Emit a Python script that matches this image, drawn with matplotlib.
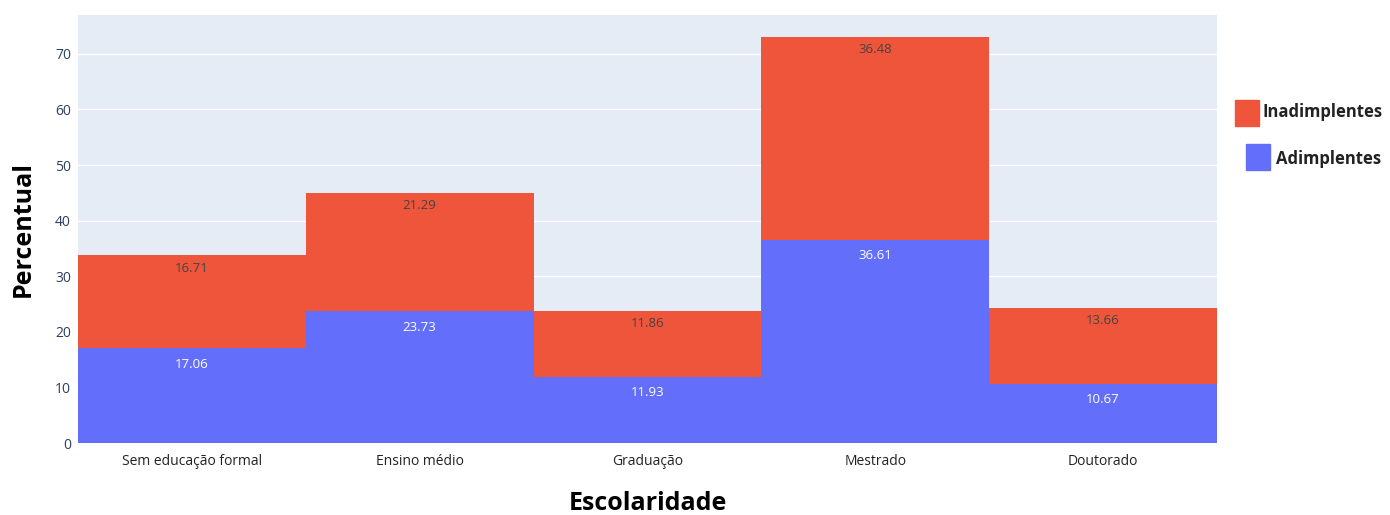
import numpy as np
import matplotlib.pyplot as plt
from matplotlib.patches import Rectangle

plt.rcParams['font.family'] = ['Open Sans', 'DejaVu Sans']

escolaridade = ["Sem educação formal", "Ensino médio", "Graduação", "Mestrado", "Doutorado"]
adimplentes = [17.06, 23.73, 11.93, 36.61, 10.67]
inadimplentes = [16.71, 21.29, 11.86, 36.48, 13.66]

azul = "#636efa"
vermelho = "#ef553b"

fig = plt.figure(figsize=(13.9, 5.15), dpi=100)
ax = fig.add_axes([0.0561, 0.1398, 0.8194, 0.8311])
ax.set_facecolor("#e5ecf6")

x = np.arange(len(escolaridade))
ax.bar(x, adimplentes, width=1.0, color=azul, zorder=2)
ax.bar(x, inadimplentes, width=1.0, bottom=adimplentes, color=vermelho, zorder=2)

# value labels just inside the top of each segment
for xi, a, i in zip(x, adimplentes, inadimplentes):
    ax.annotate(f"{a:.2f}", (xi, a), xytext=(0, -11.5), textcoords="offset points",
                ha="center", va="center", color="white", fontsize=9.5, zorder=3)
    ax.annotate(f"{i:.2f}", (xi, a + i), xytext=(0, -9.5), textcoords="offset points",
                ha="center", va="center", color="#444444", fontsize=9.5, zorder=3)

ax.set_xlim(-0.5, 4.5)
ax.set_ylim(0, 77)
ax.set_yticks(range(0, 80, 10))
ax.grid(axis="y", color="white", linewidth=1, zorder=1)
for s in ax.spines.values():
    s.set_visible(False)
ax.tick_params(axis="y", length=0, pad=5, labelsize=10, labelcolor="#2a3f5f")
ax.tick_params(axis="x", length=0, pad=8, labelsize=10, labelcolor="#222222")
ax.set_xticks(x)
ax.set_xticklabels(escolaridade)

ax.set_ylabel("Percentual", fontsize=18, fontweight="bold", labelpad=14)
ax.set_xlabel("Escolaridade", fontsize=18, fontweight="bold", labelpad=16)

# legend drawn manually to keep the staggered look
fig.patches.append(Rectangle((1235 / 1390, 1 - 126 / 515), 24 / 1390, 26 / 515,
                             transform=fig.transFigure, color=vermelho))
fig.text(1262 / 1390, 1 - 112 / 515, "Inadimplentes", fontsize=12, fontweight="bold",
         va="center", ha="left", color="#222222")
fig.patches.append(Rectangle((1246 / 1390, 1 - 170 / 515), 24 / 1390, 26 / 515,
                             transform=fig.transFigure, color=azul))
fig.text(1276 / 1390, 1 - 159 / 515, "Adimplentes", fontsize=12, fontweight="bold",
         va="center", ha="left", color="#222222")

fig.savefig("out.png", dpi=100)
